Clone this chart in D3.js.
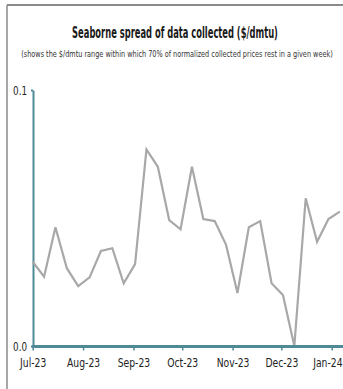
<!DOCTYPE html>
<html><head><meta charset="utf-8">
<script src="https://cdn.jsdelivr.net/npm/d3@7"></script>
<style>
html,body{margin:0;padding:0;background:#fff;}
svg{display:block;}
text{font-family:"Liberation Sans Narrow","DejaVu Sans Condensed","Open Sans",sans-serif;}
</style></head>
<body><svg id="c" width="343" height="389"></svg>
<script>
const startDate = "2023-07-01";
const values = [0.0329,0.0271,0.0464,0.0304,0.0234,0.0268,0.0371,0.0382,0.0245,0.0320,
0.0768,0.0700,0.0492,0.0456,0.0700,0.0496,0.0488,0.0395,0.0207,0.0464,
0.0488,0.0245,0.0199,0.0000,0.0577,0.0407,0.0496,0.0525];
const yTicks = [0, 0.1];
const xTickMonths = ["2023-07-01","2023-08-01","2023-09-01","2023-10-01","2023-11-01","2023-12-01","2024-01-01"];
const title = "Seaborne spread of data collected ($/dmtu)";
const subtitle = "(shows the $/dmtu range within which 70% of normalized collected prices rest in a given week)";

const parse = d3.utcParse("%Y-%m-%d");
const t0 = parse(startDate);
const data = values.map((v,i)=>({date:d3.utcDay.offset(t0, 7*i), v}));

const svg = d3.select("#c");
const W = 343, H = 389;

// frame
svg.append("line").attr("x1",7).attr("x2",W).attr("y1",5).attr("y2",5).attr("stroke","#8a8a8a").attr("stroke-width",2);
svg.append("line").attr("x1",7).attr("x2",7).attr("y1",5).attr("y2",H).attr("stroke","#8a8a8a").attr("stroke-width",1.5);

const x = d3.scaleUtc().domain([parse(xTickMonths[0]), parse(xTickMonths[6])]).range([32.7, 331.7]);
const y = d3.scaleLinear().domain([0,0.1]).range([346,90]);

// squeeze text horizontally to a target width, keeping its height
function squeeze(g, sel, target){
  const w = sel.node().getComputedTextLength();
  const k = w > 0 ? Math.min(1, target / w) : 1;
  g.attr("transform", g.attr("transform") + ` scale(${k},1)`);
}
const tg = svg.append("g").attr("transform","translate(175,38)");
const tt = tg.append("text").attr("text-anchor","middle").attr("font-size",15.5)
  .attr("font-weight","bold").attr("fill","#1a1a1a").text(title);
squeeze(tg, tt, 206);
const sg = svg.append("g").attr("transform","translate(177,57)");
const st = sg.append("text").attr("text-anchor","middle").attr("font-size",9)
  .attr("fill","#333").text(subtitle);
squeeze(sg, st, 312);

const axisColor = "#4f8a97";

// y axis
const ya = svg.append("g").attr("transform","translate(33,0)")
  .call(d3.axisLeft(y).tickValues(yTicks).tickFormat(d3.format(".1f")).tickSize(2).tickSizeOuter(0));
ya.select(".domain").attr("stroke",axisColor).attr("stroke-width",2);
ya.selectAll(".tick line").attr("stroke",axisColor).attr("stroke-width",2);
ya.selectAll(".tick text").attr("font-size",11.5).attr("fill","#222").attr("x",-7).attr("dy","0.35em")
  .attr("transform","scale(0.85,1)");

// line
const line = d3.line().x(d=>x(d.date)).y(d=>y(d.v));
svg.append("path").datum(data).attr("d",line).attr("fill","none")
  .attr("stroke","#a8a8a8").attr("stroke-width",2.2).attr("stroke-linejoin","miter");

// x axis
const xa = svg.append("g").attr("transform","translate(0,346.5)")
  .call(d3.axisBottom(x).tickValues(xTickMonths.map(parse)).tickFormat(d3.utcFormat("%b-%y")).tickSize(4).tickSizeOuter(0));
xa.select(".domain").remove();
xa.append("line").attr("x1",32).attr("x2",W).attr("y1",0).attr("y2",0).attr("stroke",axisColor).attr("stroke-width",3);
xa.selectAll(".tick line").attr("stroke",axisColor).attr("stroke-width",1.5);
xa.selectAll(".tick text").attr("font-size",12.5).attr("fill","#222").attr("y",12)
  .attr("transform","scale(0.82,1)");
// keep the last label inside the picture
const lastTick = xa.selectAll(".tick").filter((d,i,n)=>i===n.length-1);
const lastT = lastTick.select("text");
const lw = lastT.node().getComputedTextLength()*0.82;
const lx = x(parse(xTickMonths[6]));
if (lx + lw/2 > W - 1) lastT.attr("x", ((W - 1 - lw/2) - lx)/0.82);
</script></body></html>
